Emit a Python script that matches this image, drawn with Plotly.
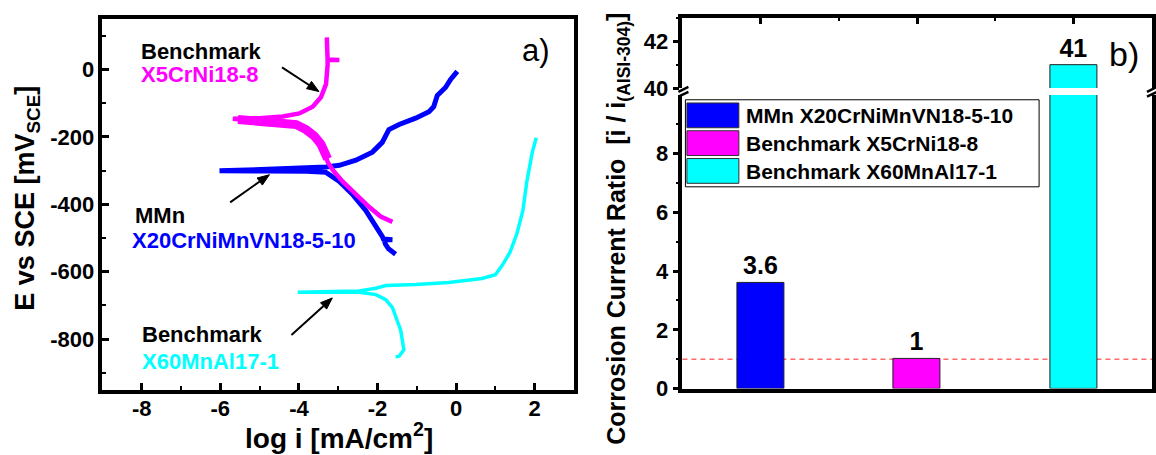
import math
import plotly.graph_objects as go

W, H = 1156, 455
FONT = "Liberation Sans, Arial, sans-serif"

# ---------------- Panel a: polarization curves (log i [mA/cm2] vs E [mV_SCE]) ----------------
mmn_logi = [-1.54, -1.72, -1.80, -1.83, -1.62, -1.85, -1.88, -2.04, -2.30, -2.64, -2.97, -3.31, -3.80, -4.80, -6.02,
            -4.80, -3.82, -3.31, -2.97, -2.55, -2.13, -1.88, -1.71, -1.45, -1.03, -0.69, -0.57, -0.52, -0.48, -0.27,
            -0.14, 0.03]
mmn_E = [-548, -532, -518, -505, -505, -503, -495, -466, -418, -370, -332, -305, -302, -301, -300,
         -296, -292, -289, -284, -269, -245, -216, -178, -163, -144, -125, -110, -96, -77, -53,
         -29, -5]

x5_logi = [-1.62, -1.92, -2.21, -2.55, -2.89, -3.14, -3.27, -3.35, -3.44, -3.61, -3.82, -4.07, -4.41, -5.25, -5.68,
           -5.00, -4.41, -3.99, -3.65, -3.44, -3.31, -3.27, -3.27, -2.97, -3.27, -3.28, -3.29]
x5_E = [-452, -436, -408, -370, -332, -298, -274, -245, -221, -197, -178, -163, -157, -151, -146,
        -144, -139, -130, -110, -82, -43, 14, 29, 29, 30, 60, 96]
# noisy (thick) part of the cathodic branch of X5CrNi18-8
x5_band_logi = [-5.55, -5.25, -4.41, -4.07, -3.82, -3.61, -3.44, -3.35, -3.27]
x5_band_E = [-148, -151, -157, -163, -178, -197, -221, -245, -265]

x60_logi = [-1.54, -1.45, -1.33, -1.37, -1.41, -1.50, -1.62, -1.79, -2.04, -2.47, -3.14, -4.03,
            -3.14, -2.47, -2.04, -1.79, -1.03, -0.19, 0.66, 1.00, 1.17, 1.37, 1.55, 1.70, 1.80, 1.89, 1.94, 2.04]
x60_E = [-853, -851, -832, -803, -774, -745, -707, -683, -668, -661, -660, -661,
         -659, -657, -649, -641, -638, -632, -620, -609, -582, -543, -486, -418, -332, -274, -245, -202]

logi_ticks = [-8, -6, -4, -2, 0, 2]
logi_ticklabels = ["-8", "-6", "-4", "-2", "0", "2"]
E_ticks = [-800, -600, -400, -200, 0]
E_ticklabels = ["-800", "-600", "-400", "-200", "0"]
LOGI_RANGE = [-9, 3]
E_RANGE = [-950, 150]

# arrows pointing at the corrosion potentials: (tail, head) in data coordinates
arrow_tails = [(-4.43, 7), (-5.75, -394), (-4.19, -788)]
arrow_heads = [(-3.49, -65), (-4.75, -312), (-3.15, -678)]

# ---------------- Panel b: corrosion current ratio ----------------
categories = ["MMn X20CrNiMnVN18-5-10", "Benchmark X5CrNi18-8", "Benchmark X60MnAl17-1"]
ratio = [3.6, 1, 41]
ratio_labels = ["3.6", "1", "41"]
bar_colors = ["#0000FF", "#FF00FF", "#00FFFF"]
reference_ratio = 1
ratio_ticks_low = [0, 2, 4, 6, 8]
ratio_ticks_high = [40, 42]

BLUE, MAGENTA, CYAN = bar_colors

# panel a plot area in pixels
A_L, A_R, A_T, A_B = 102.5, 574.5, 19.7, 401.0


def xp(px):
    return px / W


def yp(py):
    return 1 - py / H


def a_px(v, e):
    """data -> pixel for panel a (used for arrow heads)"""
    x = A_L + (v - LOGI_RANGE[0]) / (LOGI_RANGE[1] - LOGI_RANGE[0]) * (A_R - A_L)
    y = A_T + (E_RANGE[1] - e) / (E_RANGE[1] - E_RANGE[0]) * (A_B - A_T)
    return x, y


fig = go.Figure()

# panel a traces
fig.add_trace(go.Scatter(x=x60_logi, y=x60_E, mode="lines", line=dict(color=CYAN, width=3.5),
                         xaxis="x", yaxis="y", hoverinfo="skip"))
fig.add_trace(go.Scatter(x=mmn_logi, y=mmn_E, mode="lines", line=dict(color=BLUE, width=5),
                         xaxis="x", yaxis="y", hoverinfo="skip"))
fig.add_trace(go.Scatter(x=x5_band_logi, y=x5_band_E, mode="lines", line=dict(color=MAGENTA, width=9),
                         xaxis="x", yaxis="y", hoverinfo="skip"))
fig.add_trace(go.Scatter(x=x5_logi, y=x5_E, mode="lines", line=dict(color=MAGENTA, width=4.5),
                         xaxis="x", yaxis="y", hoverinfo="skip"))

# panel b bars (lower and upper part of the broken axis)
bar_pos = list(range(1, len(categories) + 1))
lower_pos = ["outside" if v < 10 else "none" for v in ratio]
upper_pos = ["outside" if v >= 40 else "none" for v in ratio]
for ax_x, ax_y, tpos in (("x2", "y2", lower_pos), ("x3", "y3", upper_pos)):
    fig.add_trace(go.Bar(x=bar_pos, y=ratio, width=0.3, marker=dict(color=bar_colors,
                         line=dict(color="#202020", width=1)),
                         text=ratio_labels, textposition=tpos, constraintext="none",
                         textfont=dict(family=FONT, size=25, color="black", weight="bold"),
                         xaxis=ax_x, yaxis=ax_y, hoverinfo="skip"))

tickfont = dict(family=FONT, size=22, color="black", weight="bold")
common = dict(showgrid=False, zeroline=False, showline=True, linecolor="black", tickcolor="black",
              tickfont=tickfont)

fig.update_layout(
    width=W, height=H, margin=dict(l=0, r=0, t=0, b=0),
    paper_bgcolor="white", plot_bgcolor="white", showlegend=False,
    bargap=0,
    xaxis=dict(domain=[xp(A_L), xp(A_R)], range=LOGI_RANGE, anchor="y", linewidth=3.5, mirror=True,
               ticks="inside", ticklen=7, tickwidth=2.5, tickmode="array", tickvals=logi_ticks,
               ticktext=logi_ticklabels, ticklabelstandoff=-4,
               minor=dict(ticks="inside", ticklen=4, tickwidth=2, tickmode="array",
                          tickvals=[v + 1 for v in logi_ticks] + [logi_ticks[0] - 1], tickcolor="black"),
               **common),
    yaxis=dict(domain=[yp(A_B), yp(A_T)], range=E_RANGE, anchor="x", linewidth=3.5, mirror=True,
               ticks="inside", ticklen=7, tickwidth=2.5, tickmode="array", tickvals=E_ticks,
               ticktext=E_ticklabels,
               minor=dict(ticks="inside", ticklen=4, tickwidth=2, tickmode="array",
                          tickvals=[v + 100 for v in E_ticks] + [E_ticks[0] - 100], tickcolor="black"),
               **common),
    xaxis2=dict(domain=[xp(683), xp(1153)], range=[0.5, 3.5], anchor="y2", linewidth=4, ticks="",
                showticklabels=False, **common),
    yaxis2=dict(domain=[yp(400), yp(97.7)], range=[0, 10], anchor="x2", linewidth=3.5, mirror=True,
                ticks="outside", ticklen=6, tickwidth=2.5, tickmode="array", tickvals=ratio_ticks_low,
                minor=dict(ticks="outside", ticklen=3, tickwidth=2, tickmode="array",
                           tickvals=[v + 1 for v in ratio_ticks_low], tickcolor="black"), **common),
    xaxis3=dict(domain=[xp(683), xp(1153)], range=[0.5, 3.5], anchor="y3", side="top", linewidth=4,
                ticks="inside", ticklen=6, tickwidth=2.5, tickmode="array", tickvals=bar_pos,
                showticklabels=False,
                minor=dict(ticks="inside", ticklen=3, tickwidth=2, tickmode="array",
                           tickvals=[p + 0.5 for p in bar_pos[:-1]], tickcolor="black"), **common),
    yaxis3=dict(domain=[yp(90.7), yp(18.7)], range=[40, 43], anchor="x3", linewidth=3.5, mirror=True,
                ticks="outside", ticklen=6, tickwidth=2.5, tickmode="array", tickvals=ratio_ticks_high,
                minor=dict(ticks="outside", ticklen=3, tickwidth=2, tickmode="array",
                           tickvals=[v + 1 for v in ratio_ticks_high], tickcolor="black"), **common),
)

shapes = []
annotations = []

# reference line at ratio = 1
shapes.append(dict(type="line", xref="x2 domain", x0=0, x1=1, yref="y2", y0=reference_ratio, y1=reference_ratio,
                   line=dict(color="#FF6A6A", width=1.5, dash="5px,4px"), layer="below"))

# axis-break marks
for xc in (684, 1153):
    for yc in (92, 97):
        shapes.append(dict(type="line", xref="paper", yref="paper",
                           x0=xp(xc - 5), y0=yp(yc + 2.5), x1=xp(xc + 5), y1=yp(yc - 2.5),
                           line=dict(color="black", width=2.5)))

# arrows (line + filled head)
for tail, head in zip(arrow_tails, arrow_heads):
    tx, ty = a_px(*tail)
    hx, hy = a_px(*head)
    L = math.hypot(hx - tx, hy - ty)
    ux, uy = (hx - tx) / L, (hy - ty) / L
    bx, by = hx - ux * 12, hy - uy * 12
    px_, py_ = -uy * 4.5, ux * 4.5
    shapes.append(dict(type="line", xref="paper", yref="paper", x0=xp(tx), y0=yp(ty), x1=xp(bx), y1=yp(by),
                       line=dict(color="black", width=2)))
    path = "M {:.5f},{:.5f} L {:.5f},{:.5f} L {:.5f},{:.5f} Z".format(
        xp(hx), yp(hy), xp(bx + px_), yp(by + py_), xp(bx - px_), yp(by - py_))
    shapes.append(dict(type="path", xref="paper", yref="paper", path=path, fillcolor="black",
                       line=dict(color="black", width=1)))

# custom legend for panel b
shapes.append(dict(type="rect", xref="paper", yref="paper", x0=xp(686), x1=xp(1040), y0=yp(192.3), y1=yp(102.7),
                   line=dict(color="black", width=1), fillcolor="white", layer="above"))
row_top = 106
row_pitch = 28.6
for i, (name, col) in enumerate(zip(categories, bar_colors)):
    t = row_top + i * row_pitch
    shapes.append(dict(type="rect", xref="paper", yref="paper", x0=xp(687.5), x1=xp(739.5),
                       y0=yp(t + 25.5), y1=yp(t), fillcolor=col, line=dict(color="#303030", width=1),
                       layer="above"))
    annotations.append(dict(text=name, xref="paper", yref="paper", x=xp(745), y=yp(t + 13),
                            xanchor="left", yanchor="middle", showarrow=False,
                            font=dict(family=FONT, size=21, color="black", weight="bold")))

lab = dict(family=FONT, size=22, weight="bold")
# panel a labels
for text, color, px, py in (("Benchmark", "black", 139, 52.7), ("X5CrNi18-8", MAGENTA, 139, 76.7),
                            ("MMn", "black", 133, 222.3), ("X20CrNiMnVN18-5-10", BLUE, 130, 247.3),
                            ("Benchmark", "black", 140, 344.3), ("X60MnAl17-1", CYAN, 140, 372.3)):
    annotations.append(dict(text=text, xref="paper", yref="paper", x=xp(px), y=yp(py), xanchor="left",
                            yanchor="middle", showarrow=False, font=dict(color=color, **lab)))

# axis titles
annotations.append(dict(text="E vs SCE [mV<sub>SCE</sub>]", xref="paper", yref="paper", x=xp(27), y=yp(203.5),
                        textangle=-90, xanchor="center", yanchor="middle", showarrow=False,
                        font=dict(family=FONT, size=27, color="black", weight="bold")))
annotations.append(dict(text="log i [mA/cm<sup>2</sup>]", xref="paper", yref="paper", x=xp(339), y=yp(428),
                        xanchor="center", yanchor="top", showarrow=False,
                        font=dict(family=FONT, size=28, color="black", weight="bold")))
annotations.append(dict(text="Corrosion Current Ratio  [i / i<sub>(AISI-304)</sub>]", xref="paper", yref="paper",
                        x=xp(619), y=yp(235), textangle=-90, xanchor="center", yanchor="middle",
                        showarrow=False, font=dict(family=FONT, size=25, color="black", weight="bold")))
# panel labels
annotations.append(dict(text="a)", xref="paper", yref="paper", x=xp(536.7), y=yp(52), xanchor="center",
                        yanchor="middle", showarrow=False, font=dict(family=FONT, size=31, color="black")))
annotations.append(dict(text="b)", xref="paper", yref="paper", x=xp(1125), y=yp(56), xanchor="center",
                        yanchor="middle", showarrow=False, font=dict(family=FONT, size=34, color="black")))

fig.update_layout(shapes=shapes, annotations=annotations)

fig.write_html("out.html", config={"displayModeBar": False},
               post_script="document.body.style.margin='0px';")
